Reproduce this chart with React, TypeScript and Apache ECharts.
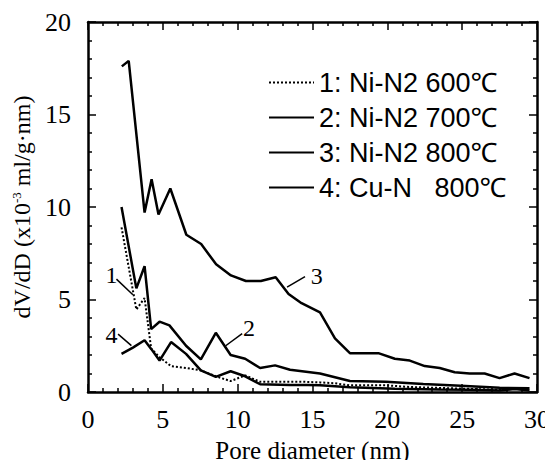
import React, { useEffect, useRef } from "react";
import * as echarts from "echarts";

const seriesNames = ["1: Ni-N2 600℃", "2: Ni-N2 700℃", "3: Ni-N2 800℃", "4: Cu-N   800℃"];

const x1 = [2.24, 3.23, 3.78, 4.22, 4.78, 5.55, 6.55, 7.54, 8.54, 9.53, 10.5, 11.5, 12.5, 13.5, 14.5, 15.5, 16.5, 17.5, 18.5, 19.9, 21.5, 23.5, 25.5, 27.5, 28.5, 29.5];
const y1 = [8.9, 4.46, 5.08, 2.35, 1.88, 1.4, 1.3, 1.17, 0.85, 0.59, 0.9, 0.55, 0.55, 0.55, 0.55, 0.52, 0.47, 0.36, 0.36, 0.36, 0.27, 0.22, 0.17, 0.12, 0.22, 0.12];

const x2 = [2.24, 3.23, 3.78, 4.22, 4.78, 5.44, 6.55, 7.54, 8.54, 9.53, 10.5, 11.5, 12.5, 13.5, 14.7, 15.5, 17.5, 19.9, 22.4, 24.9, 27.5, 29.5];
const y2 = [10.0, 5.6, 6.8, 3.4, 3.8, 3.6, 2.5, 1.76, 3.2, 2.0, 1.8, 1.3, 1.44, 1.2, 1.08, 1.0, 0.59, 0.55, 0.43, 0.34, 0.23, 0.2];

const x3 = [2.26, 2.72, 3.78, 4.25, 4.71, 5.5, 6.57, 7.56, 8.56, 9.55, 10.55, 11.55, 12.54, 13.4, 14.27, 15.5, 16.5, 17.5, 18.5, 19.4, 20.5, 21.5, 22.5, 23.5, 24.5, 25.5, 26.5, 27.5, 28.5, 29.5];
const y3 = [17.6, 17.9, 9.7, 11.5, 9.6, 11.0, 8.5, 8.0, 6.9, 6.3, 6.0, 6.0, 6.2, 5.3, 4.8, 4.3, 2.9, 2.1, 2.1, 2.1, 1.8, 1.7, 1.4, 1.3, 1.07, 1.0, 1.0, 0.75, 1.0, 0.75];

const x4 = [2.24, 3.0, 3.78, 4.22, 4.78, 5.55, 6.55, 7.54, 8.54, 9.53, 10.5, 11.5, 13.5, 14.7, 15.5, 17.5, 20.5, 23.5, 25.5, 27.5, 28.5, 29.5];
const y4 = [2.06, 2.4, 2.8, 2.33, 1.7, 2.7, 2.06, 1.17, 0.82, 1.12, 0.85, 0.42, 0.38, 0.38, 0.36, 0.26, 0.18, 0.13, 0.12, 0.08, 0.16, 0.08];

// Callout labels and leader lines (data coordinates)
const calloutText = ["1", "2", "3", "4"];
const calloutPos = [
  [1.57, 6.35],
  [10.75, 3.48],
  [15.28, 6.28],
  [1.57, 3.1],
];
const leaderFrom = [
  [1.9, 6.1],
  [10.3, 3.15],
  [14.5, 6.24],
  [2.01, 3.13],
];
const leaderTo = [
  [3.0, 5.26],
  [9.2, 2.5],
  [13.3, 5.67],
  [2.9, 2.51],
];

const xTicks = [0, 30, 5];
const yTicks = [0, 20, 5];

const zip = (xs: number[], ys: number[]) => xs.map((x, i) => [x, ys[i]]);

export default function App() {
  const ref = useRef<HTMLDivElement>(null);
  useEffect(() => {
    if (!ref.current) return;
    const chart = echarts.init(ref.current, null, { renderer: "svg" });
    const serif = "'Liberation Serif', 'DejaVu Serif', serif";
    const sans = "'Liberation Sans', 'Noto Sans', sans-serif";
    const axisCommon = {
      type: "value" as const,
      axisLine: { show: true, onZero: false, lineStyle: { color: "#000", width: 2.5 } },
      axisTick: { show: true, inside: true, length: 8, lineStyle: { color: "#000", width: 1.5 } },
      minorTick: { show: true, splitNumber: 5, length: 4, lineStyle: { color: "#000", width: 1.5 } },
      splitLine: { show: false },
    };
    const lineData = [zip(x1, y1), zip(x2, y2), zip(x3, y3), zip(x4, y4)];
    const series: any[] = lineData.map((d, i) => ({
      type: "line",
      name: seriesNames[i],
      data: d,
      symbol: "none",
      xAxisIndex: 0,
      yAxisIndex: 0,
      lineStyle: {
        color: "#000",
        width: i === 0 ? 2 : 2.5,
        type: i === 0 ? [2, 2] : "solid",
      },
      itemStyle: { color: "#000" },
      z: i === 0 ? 4 : 3,
    }));
    series.push({
      type: "line",
      name: "callouts",
      data: [],
      symbol: "none",
      markLine: {
        silent: true,
        symbol: ["none", "none"],
        label: { show: false },
        lineStyle: { color: "#000", width: 1.5, type: "solid" },
        data: leaderFrom.map((p, i) => [{ coord: p }, { coord: leaderTo[i] }]),
      },
      markPoint: {
        silent: true,
        symbol: "circle",
        symbolSize: 0,
        label: {
          show: true,
          position: "inside",
          fontFamily: serif,
          fontSize: 24,
          color: "#000",
        },
        data: calloutPos.map((p, i) => ({ coord: p, value: calloutText[i], label: { formatter: calloutText[i] } })),
      },
    });
    chart.setOption({
      animation: false,
      backgroundColor: "#fff",
      grid: { left: 88, right: 13, top: 22, bottom: 71, containLabel: false },
      legend: {
        data: seriesNames,
        orient: "vertical",
        left: 263,
        top: 64,
        itemWidth: 45,
        itemHeight: 14,
        itemGap: 8,
        itemStyle: { color: "rgba(0,0,0,0)", borderWidth: 0, opacity: 0 },
        textStyle: { fontFamily: sans, fontSize: 27, color: "#000" },
      },
      xAxis: [
        {
          ...axisCommon,
          position: "bottom",
          min: xTicks[0],
          max: xTicks[1],
          interval: xTicks[2],
          axisLabel: { show: true, margin: 14, fontFamily: serif, fontSize: 26, color: "#000" },
          name: "Pore diameter (nm)",
          nameLocation: "middle",
          nameGap: 46,
          nameTextStyle: { fontFamily: serif, fontSize: 25, color: "#000" },
        },
        {
          ...axisCommon,
          position: "top",
          min: xTicks[0],
          max: xTicks[1],
          interval: xTicks[2],
          axisLabel: { show: false },
        },
      ],
      yAxis: [
        {
          ...axisCommon,
          position: "left",
          min: yTicks[0],
          max: yTicks[1],
          interval: yTicks[2],
          axisLabel: { show: true, margin: 17, fontFamily: serif, fontSize: 26, color: "#000" },
          name: "dV/dD (x10{sup|-3} ml/g·nm)",
          nameLocation: "middle",
          nameGap: 50,
          nameTextStyle: {
            fontFamily: serif,
            fontSize: 24,
            color: "#000",
            rich: {
              sup: { fontFamily: serif, fontSize: 13, color: "#000", padding: [0, 0, 12, 0] },
            },
          },
        },
        {
          ...axisCommon,
          position: "right",
          min: yTicks[0],
          max: yTicks[1],
          interval: yTicks[2],
          axisLabel: { show: false },
        },
      ],
      series,
    });
    return () => chart.dispose();
  }, []);
  return <div ref={ref} style={{ width: 553, height: 468, margin: -8 }} />;
}
